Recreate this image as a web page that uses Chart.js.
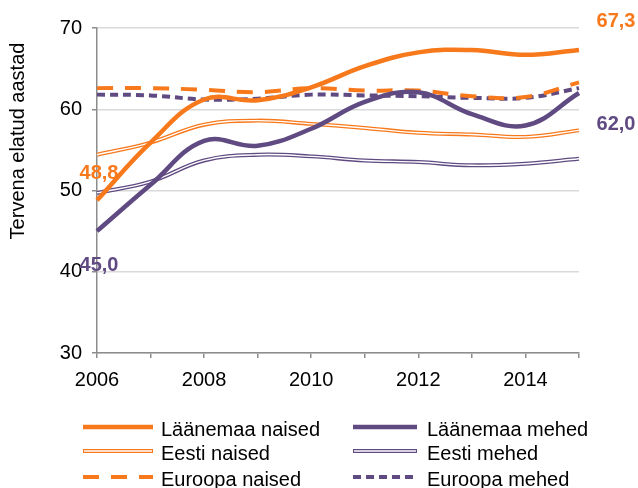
<!DOCTYPE html>
<html>
<head>
<meta charset="utf-8">
<script src="https://cdn.jsdelivr.net/npm/chart.js@4.4.0/dist/chart.umd.min.js"></script>
<style>
  html, body { margin: 0; padding: 0; background: #fff; }
  #wrap { width: 638px; height: 488px; position: relative; }
</style>
</head>
<body>
<div id="wrap"><canvas id="chart"></canvas></div>
<script>
// --- andmed ---
const years = ['2006', '2007', '2008', '2009', '2010', '2011', '2012', '2013', '2014', '2015'];
const laanemaaNaised = [48.8, 55.9, 61.2, 61.1, 62.7, 65.3, 67.0, 67.3, 66.7, 67.3];
const laanemaaMehed  = [45.0, 50.7, 56.1, 55.5, 57.6, 60.9, 62.1, 59.4, 58.0, 62.0];
const eestiNaised    = [54.4, 55.9, 58.1, 58.6, 58.2, 57.7, 57.1, 56.9, 56.6, 57.4];
const eestiMehed     = [49.7, 51.1, 53.7, 54.4, 54.2, 53.7, 53.5, 53.1, 53.3, 53.9];
const euroopaNaised  = [62.6, 62.6, 62.4, 62.1, 62.6, 62.3, 62.3, 61.6, 61.5, 63.3];
const euroopaMehed   = [61.8, 61.7, 61.2, 61.3, 61.8, 61.7, 61.6, 61.4, 61.4, 62.6];
const yTitle = 'Tervena elatud aastad';

const ORANGE = '#f7791b';
const PURPLE = '#5f4a82';
const FONT = "'Liberation Sans', Arial, sans-serif";

// joone tüübid: 'solid', 'double', 'dash', 'dot'
const line = (label, data, color, kind, order, extra) => Object.assign({
    label, data, borderColor: color, kind,
    borderWidth: kind === 'solid' ? 4.5 : (kind === 'double' ? 4 : 4),
    borderDash: kind === 'dash' ? [16, 12] : (kind === 'dot' ? [8, 5] : []),
    pointRadius: 0, tension: 0.4, fill: false, order
}, extra || {});

const datasets = [
    line('Läänemaa naised', laanemaaNaised, ORANGE, 'solid', 1, { endLabels: true }),
    line('Läänemaa mehed', laanemaaMehed, PURPLE, 'solid', 2, { endLabels: true }),
    line('Eesti naised', eestiNaised, ORANGE, 'double', 9),
    line('Eesti mehed', eestiMehed, PURPLE, 'double', 11),
    line('Euroopa naised', euroopaNaised, ORANGE, 'dash', 4),
    line('Euroopa mehed', euroopaMehed, PURPLE, 'dot', 5),
    // topeltjoonte valge keskosa
    line('', eestiNaised, '#fff', 'inner', 8, { borderWidth: 1.4 }),
    line('', eestiMehed, '#fff', 'inner', 10, { borderWidth: 1.4 })
];

// algus- ja lõpuväärtuste sildid
const labelPlugin = {
    id: 'endLabels',
    afterDatasetsDraw(chart) {
        const ctx = chart.ctx;
        ctx.save();
        ctx.font = 'bold 20px ' + FONT;
        ctx.textAlign = 'center';
        ctx.textBaseline = 'middle';
        chart.data.datasets.forEach((ds, i) => {
            if (!ds.endLabels) return;
            const pts = chart.getDatasetMeta(i).data;
            const first = pts[0], last = pts[pts.length - 1];
            const up = ds.label === 'Läänemaa naised';
            const fmt = v => v.toFixed(1).replace('.', ',');
            ctx.fillStyle = ds.borderColor;
            ctx.fillText(fmt(ds.data[0]), first.x + 2, first.y + (up ? -27 : 34));
            ctx.fillText(fmt(ds.data[ds.data.length - 1]), last.x + 37, last.y + (up ? -28 : 31));
        });
        ctx.restore();
    }
};

// telje pealkiri ja legend
const extrasPlugin = {
    id: 'extras',
    afterDraw(chart) {
        const ctx = chart.ctx;
        const area = chart.chartArea;
        ctx.save();
        ctx.fillStyle = '#000';
        ctx.font = '20px ' + FONT;
        ctx.translate(18, 141);
        ctx.rotate(-Math.PI / 2);
        ctx.textAlign = 'center';
        ctx.textBaseline = 'middle';
        ctx.fillText(yTitle, 0, 0);
        ctx.restore();

        const items = chart.data.datasets.filter(d => d.kind !== 'inner');
        const cols = [{ x0: 83, x1: 153, tx: 161 }, { x0: 353, x1: 417, tx: 427 }];
        const rows = [area.bottom + 74, area.bottom + 98, area.bottom + 124];
        ctx.save();
        ctx.font = '20px ' + FONT;
        ctx.textBaseline = 'middle';
        ctx.textAlign = 'left';
        items.forEach((ds, i) => {
            const c = cols[i % 2];
            const y = rows[Math.floor(i / 2)];
            ctx.strokeStyle = ds.borderColor;
            ctx.lineWidth = ds.borderWidth;
            ctx.setLineDash(ds.borderDash);
            ctx.lineCap = 'butt';
            ctx.beginPath();
            ctx.moveTo(c.x0, y);
            ctx.lineTo(c.x1, y);
            ctx.stroke();
            if (ds.kind === 'double') {
                ctx.strokeStyle = '#fff';
                ctx.lineWidth = 1.4;
                ctx.beginPath();
                ctx.moveTo(c.x0 + 1, y);
                ctx.lineTo(c.x1 - 1, y);
                ctx.stroke();
            }
            ctx.setLineDash([]);
            ctx.fillStyle = '#000';
            ctx.fillText(ds.label, c.tx, y + 3);
        });
        ctx.restore();
    }
};

new Chart(document.getElementById('chart'), {
    type: 'line',
    data: { labels: years, datasets },
    options: {
        responsive: true,
        maintainAspectRatio: false,
        animation: false,
        layout: { padding: { top: 28, right: 59, left: 0, bottom: 0 } },
        plugins: { legend: { display: false }, tooltip: { enabled: false } },
        scales: {
            x: {
                offset: false,
                border: { color: '#8c8c8c', width: 1.5 },
                grid: { drawOnChartArea: false, color: '#8c8c8c', tickLength: 5, lineWidth: 1.5 },
                ticks: {
                    autoSkip: false, maxRotation: 0, color: '#000', padding: 10,
                    font: { family: FONT, size: 20 },
                    callback: (v, i) => (i % 2 === 0 ? years[i] : '')
                },
                afterFit: s => { s.height = 135; }
            },
            y: {
                min: 30, max: 70,
                border: { color: '#8c8c8c', width: 1.5 },
                grid: { color: '#d9d9d9', lineWidth: 1.5, tickColor: '#8c8c8c', tickLength: 5 },
                ticks: { stepSize: 10, color: '#000', padding: 10, font: { family: FONT, size: 20 } },
                afterFit: s => { s.width = 97; }
            }
        }
    },
    plugins: [labelPlugin, extrasPlugin]
});
</script>
</body>
</html>
